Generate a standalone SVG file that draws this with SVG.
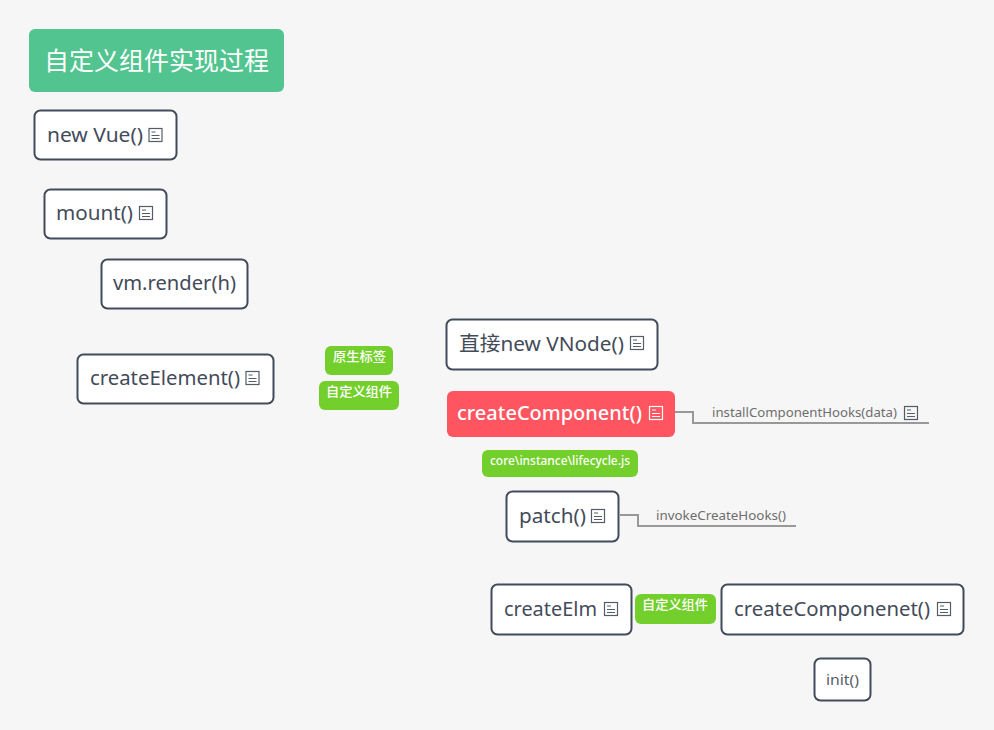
<svg xmlns="http://www.w3.org/2000/svg" width="994" height="730" viewBox="0 0 994 730">
<style>
text{font-family:"Noto Sans","Noto Sans CJK SC",sans-serif}
.box{fill:#fff;stroke:#434b5a;stroke-width:2}
.t{font-size:20.500px;fill:#434b5a}
.tag{fill:#73cf2b}
.tt{font-size:13px;font-weight:500;fill:#fff}
.sub{font-size:13px;fill:#6e6e6e}
.c{fill:none;stroke:#999;stroke-width:2}
.i{fill:none;stroke:#555c68;stroke-width:1.200}
.w{stroke:#fff}
</style>
<defs>
<g id="ic"><rect x="0.5" y="0.5" width="13" height="13"/><path d="M3 4H7M3 7.500H11M3 10.500H11"/></g>
</defs>
<rect width="994" height="730" fill="#f6f6f6"/>
<g id="connectors">
<path class="c" d="M675 412H693V423H929"/>
<path class="c" d="M620 515H638V526H796"/>
</g>
<g id="root"><rect x="29" y="29" width="255" height="63" rx="6" fill="#52c48f"/><text x="44" y="70" font-size="25" fill="#fff" textLength="225" lengthAdjust="spacingAndGlyphs">自定义组件实现过程</text></g>
<g id="n-newvue"><rect class="box" x="34.500" y="110.500" width="142" height="49" rx="6"/><text class="t" x="47" y="142" textLength="96" lengthAdjust="spacingAndGlyphs">new Vue()</text><use href="#ic" class="i" x="148.500" y="128"/></g>
<g id="n-mount"><rect class="box" x="44.500" y="189.500" width="122" height="49" rx="6"/><text class="t" x="56" y="220" textLength="77" lengthAdjust="spacingAndGlyphs">mount()</text><use href="#ic" class="i" x="139" y="206"/></g>
<g id="n-render"><rect class="box" x="101.500" y="259.500" width="146" height="49" rx="6"/><text class="t" x="113" y="290" textLength="123" lengthAdjust="spacingAndGlyphs">vm.render(h)</text></g>
<g id="n-createelement"><rect class="box" x="77.500" y="354.500" width="196" height="49" rx="6"/><text class="t" x="90" y="385" textLength="150" lengthAdjust="spacingAndGlyphs">createElement()</text><use href="#ic" class="i" x="245.500" y="371"/></g>
<g id="tag-native"><rect class="tag" x="325" y="346" width="68" height="29" rx="6"/><text class="tt" x="333" y="361" textLength="53" lengthAdjust="spacingAndGlyphs">原生标签</text></g>
<g id="tag-custom"><rect class="tag" x="319" y="381" width="80" height="29" rx="6"/><text class="tt" x="326" y="396" textLength="66" lengthAdjust="spacingAndGlyphs">自定义组件</text></g>
<g id="n-vnode"><rect class="box" x="446.500" y="319.500" width="211" height="50" rx="6"/><text class="t" x="459" y="351" textLength="165" lengthAdjust="spacingAndGlyphs">直接new VNode()</text><use href="#ic" class="i" x="630" y="336"/></g>
<g id="n-createcomponent"><rect x="447" y="391" width="228" height="46" rx="6" fill="#ff5560"/><text x="457" y="420" font-size="20.500" font-weight="500" fill="#fff" textLength="185" lengthAdjust="spacingAndGlyphs">createComponent()</text><use href="#ic" class="i w" x="649" y="406"/></g>
<g id="n-install"><text class="sub" x="712" y="417" textLength="185" lengthAdjust="spacingAndGlyphs">installComponentHooks(data)</text><use href="#ic" class="i" x="904" y="406"/></g>
<g id="tag-core"><rect class="tag" x="482" y="450" width="156" height="27" rx="6"/><text class="tt" x="490" y="465" font-size="12" textLength="140" lengthAdjust="spacingAndGlyphs">core\instance\lifecycle.js</text></g>
<g id="n-patch"><rect class="box" x="506.500" y="491.500" width="112" height="50" rx="6"/><text class="t" x="519" y="523" textLength="67" lengthAdjust="spacingAndGlyphs">patch()</text><use href="#ic" class="i" x="591" y="509"/></g>
<g id="n-invoke"><text class="sub" x="656" y="520" textLength="130" lengthAdjust="spacingAndGlyphs">invokeCreateHooks()</text></g>
<g id="n-createelm"><rect class="box" x="491.500" y="584.500" width="140" height="50" rx="6"/><text class="t" x="504" y="616" textLength="93" lengthAdjust="spacingAndGlyphs">createElm</text><use href="#ic" class="i" x="604" y="602"/></g>
<g id="tag-custom2"><rect class="tag" x="635" y="594" width="81" height="30" rx="6"/><text class="tt" x="642" y="609" textLength="66" lengthAdjust="spacingAndGlyphs">自定义组件</text></g>
<g id="n-createcomponenet"><rect class="box" x="721.500" y="584.500" width="242" height="50" rx="6"/><text class="t" x="734" y="616" textLength="196" lengthAdjust="spacingAndGlyphs">createComponenet()</text><use href="#ic" class="i" x="937" y="602"/></g>
<g id="n-init"><rect class="box" x="814.500" y="658.500" width="56" height="42" rx="6"/><text x="826" y="685" font-size="15" fill="#555c68" textLength="33" lengthAdjust="spacingAndGlyphs">init()</text></g>
</svg>
